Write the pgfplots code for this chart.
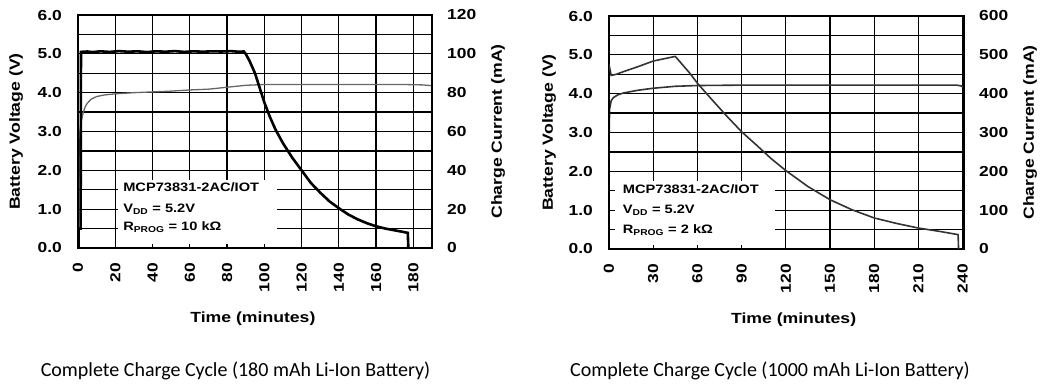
\documentclass[border=0pt]{standalone}
\usepackage{fontspec}
\newfontfamily\chartfont{Liberation Sans}[FakeStretch=1.2]
\newfontfamily\capfont{Carlito}
\usepackage{pgfplots}
\pgfplotsset{compat=1.18}
\tikzset{boxtext/.style={anchor=base west, font=\chartfont\bfseries\fontsize{12.2}{14}\selectfont, inner sep=0pt}}
\pgfplotsset{
  chartbase/.style={
    scale only axis, anchor=south west, height=233pt,
    /pgf/number format/assume math mode=true,
    tick label style={font=\chartfont\bfseries\fontsize{14.5}{16}\selectfont},
    label style={font=\chartfont\bfseries\fontsize{14.7}{16}\selectfont},
    axis line style={line width=1.5pt},
  },
  leftbase/.style={
    chartbase, ymin=0, ymax=6,
    ytick={0,1,...,6}, minor ytick={0.5,1.5,...,5.5},
    grid=both, major grid style={black,line width=1.3pt}, minor grid style={black,line width=1.3pt},
    major tick length=0pt, minor tick length=0pt,
    yticklabel style={/pgf/number format/.cd,fixed,fixed zerofill,precision=1,/tikz/.cd,inner sep=0pt,xshift=-16pt},
    xticklabel style={yshift=-15pt,rotate=90,anchor=east,inner sep=0pt},
    xlabel={Time (minutes)},
    ylabel={Battery Voltage (V)},
  },
  rightbase/.style={
    chartbase, ymin=0,
    xticklabels={}, xtick pos=left, xtick align=inside,
    major tick length=4pt, xtick style={black,line width=1.3pt}, ytick style={draw=none},
    yticklabel pos=right, ytick pos=right,
    yticklabel style={inner sep=0pt,xshift=15pt},
    ylabel={Charge Current (mA)},
  },
}
\begin{document}
\begin{tikzpicture}[x=1pt,y=1pt]
\useasboundingbox (0,0) rectangle (1052,384);
% ---------------- left chart ----------------
\begin{axis}[leftbase, at={(78pt,136pt)}, width=354pt,
  xmin=0, xmax=190, xtick={0,20,...,180},
  xlabel style={at={(axis description cs:0.494,-0.3176)}, anchor=base},
  ylabel style={at={(axis description cs:-0.175,0.5)}, anchor=center}]
\fill[white] (axis cs:21.5,0) rectangle (axis cs:107,1.75);
\addplot[black!60, line width=1.3pt] coordinates {
(0.3,0.5) (0.5,2.2) (0.8,2.8) (1,3.0) (1.5,3.2) (2.3,3.39) (3,3.52) (4,3.65) (5,3.73) (7,3.83) (10,3.9) (14,3.94) (20,3.97) (30,4.0) (40,4.02) (50,4.04) (60,4.07) (70,4.09) (80,4.14) (90,4.19) (100,4.21) (120,4.21) (175,4.21) (185,4.2) (190,4.18)};
\node[boxtext] at (axis cs:24.2,1.45) {MCP73831-2AC/IOT};
\node[boxtext] at (axis cs:24.2,0.91) {V\textsubscript{DD} = 5.2V};
\node[boxtext] at (axis cs:24.2,0.44) {R\textsubscript{PROG} = 10 kΩ};
\end{axis}
\begin{axis}[rightbase, at={(78pt,136pt)}, width=354pt,
  xmin=0, xmax=190, xtick={0,20,...,180},
  ymax=120, ytick={0,20,...,120},
  ylabel style={at={(axis description cs:1.1864,0.5)}, anchor=center}]
\addplot[black, line width=2.6pt] coordinates {
(0,0) (0.3,0) (0.3,10) (1.4,10) (1.6,101) (5,101.2) (8,100.9) (12,101.3) (17,101) (22,101.4) (27,101.1) (32,101.3) (37,100.9) (42,101.3) (47,101.1) (52,101.4) (57,101) (62,101.3) (67,101.1) (72,101.3) (77,101.2) (82,101.4) (86,101.1) (89,101.2) (90,100) (92,96.5) (95,90) (98,81) (100,75) (103,67.5) (106,61) (110,54) (115,46.5) (120,40) (125,33.5) (130,28.5) (135,24) (140,20.5) (145,17.3) (150,14.8) (155,12.8) (160,11.2) (165,10) (170,9.1) (175,8.2) (177,7.8) (177.3,0)};
\end{axis}
% ---------------- right chart ----------------
\begin{axis}[leftbase, at={(609pt,135pt)}, width=355pt,
  xmin=0, xmax=241, xtick={0,30,...,240},
  xlabel style={at={(axis description cs:0.52,-0.3176)}, anchor=base},
  ylabel style={at={(axis description cs:-0.169,0.5)}, anchor=center}]
\fill[white] (axis cs:4,0) rectangle (axis cs:112.7,1.75);
\addplot[black!80, line width=1.6pt] coordinates {
(0,2.7) (0.4,3.6) (1.5,3.82) (3,3.9) (6,3.97) (10,4.02) (20,4.09) (30,4.14) (45,4.19) (60,4.21) (90,4.22) (236,4.22) (239,4.2) (241,4.16)};
\node[boxtext] at (axis cs:9.3,1.43) {MCP73831-2AC/IOT};
\node[boxtext] at (axis cs:9.3,0.92) {V\textsubscript{DD} = 5.2V};
\node[boxtext] at (axis cs:9.3,0.40) {R\textsubscript{PROG} = 2 kΩ};
\end{axis}
\begin{axis}[rightbase, at={(609pt,135pt)}, width=355pt,
  xmin=0, xmax=241, xtick={0,30,...,240},
  ymax=600, ytick={0,100,...,600},
  ylabel style={at={(axis description cs:1.186,0.5)}, anchor=center}]
\addplot[black!80, line width=1.6pt] coordinates {
(0,475) (1.5,447) (5,450) (10,457) (20,470) (30,484) (40,492) (45,496) (50,474) (55,452) (60,427) (70,384) (80,342) (90,302) (100,268) (110,233) (120,202) (135,161) (150,127) (165,101) (180,80) (195,66) (210,54) (225,45) (237,37) (237.3,0)};
\end{axis}
% ---------------- captions ----------------
\node[anchor=base, font=\capfont\fontsize{20}{24}\selectfont, inner sep=0pt] at (235.5,8) {Complete Charge Cycle (180 mAh Li-Ion Battery)};
\node[anchor=base, font=\capfont\fontsize{20}{24}\selectfont, inner sep=0pt] at (770,8) {Complete Charge Cycle (1000 mAh Li-Ion Battery)};
\end{tikzpicture}
\end{document}
